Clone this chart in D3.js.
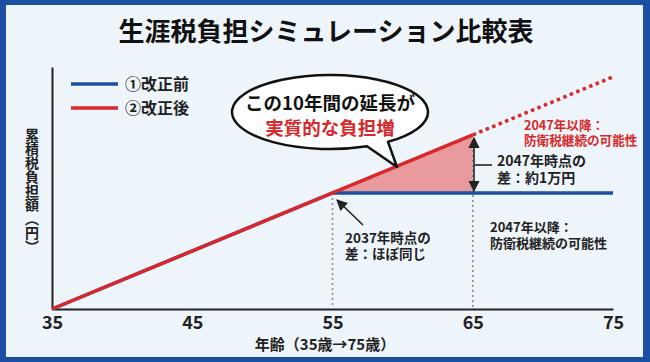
<!DOCTYPE html>
<html>
<head>
<meta charset="UTF-8" />
<title>生涯税負担シミュレーション比較表</title>
<script src="https://d3js.org/d3.v7.min.js"></script>
<style>
	body { margin: 0; }
	svg { display: block; font-family: "Noto Sans CJK JP", "Noto Sans", sans-serif; }
</style>
</head>
<body>
<div id="chart"></div>
<script type="text/javascript">

	// ages on the x axis
	var ages = [35, 45, 55, 65, 75];

	// ① before the change (yen, cumulative)
	var beforeAges = [35, 55, 75];
	var beforeTotals = [0, 20000, 20000];

	// ② after the change
	var afterAges = [35, 65];
	var afterTotals = [0, 30000];
	var afterLaterAges = [65, 75];
	var afterLaterTotals = [30000, 40000];

	var legendLabels = ["①改正前", "②改正後"];

	var W = 650, H = 362;
	var blue = "#1d4f9e", red = "#d9282b", ink = "#222";

	var svg = d3.select("div#chart")
		.append("svg")
			.attr("width", W)
			.attr("height", H);

	// frame
	svg.append("rect").attr("width", W).attr("height", H).attr("fill", "#1a4fa3");
	svg.append("rect")
		.attr("x", 6).attr("y", 5)
		.attr("width", 637).attr("height", 352)
		.attr("fill", "#eef5fa");

	svg.append("text")
		.attr("x", 326).attr("y", 41)
		.attr("text-anchor", "middle")
		.attr("font-size", 26).attr("font-weight", 700)
		.attr("fill", "#111")
		.text("生涯税負担シミュレーション比較表");

	var x = d3.scaleLinear().domain([35, 75]).range([52, 613]);
	var y = d3.scaleLinear().domain([0, 41700]).range([309, 67]);

	// axes
	var xAxis = svg.append("g")
		.attr("transform", "translate(0," + y(0) + ")")
		.call(d3.axisBottom(x).tickValues(ages).tickSize(0).tickPadding(7).tickSizeOuter(0));
	xAxis.select(".domain").attr("stroke", ink).attr("stroke-width", 2);
	xAxis.selectAll("text")
		.attr("font-family", "\"Noto Sans CJK JP\", sans-serif")
		.attr("font-size", 18).attr("font-weight", 700).attr("fill", ink);

	var yAxis = svg.append("g")
		.attr("transform", "translate(" + x(35) + ",0)")
		.call(d3.axisLeft(y).ticks(0).tickSize(0).tickSizeOuter(0));
	yAxis.select(".domain").attr("stroke", ink).attr("stroke-width", 2);

	svg.append("text")
		.attr("x", 325).attr("y", 350)
		.attr("text-anchor", "middle")
		.attr("font-size", 15).attr("font-weight", 700).attr("fill", ink)
		.text("年齢（35歳→75歳）");

	svg.append("text")
		.attr("x", 32).attr("y", 191)
		.attr("text-anchor", "middle")
		.style("writing-mode", "vertical-rl")
		.attr("font-size", 14).attr("font-weight", 700).attr("fill", ink)
		.text("累積税負担額（円）");

	// shaded gap between the two plans (55 -> 65)
	var gapAges = [55, 65];
	var area = d3.area()
		.x(function(d) { return x(d); })
		.y0(function(d) { return y(d3.max(beforeTotals)); })
		.y1(function(d) { return y(d3.interpolateNumber(afterTotals[0], afterTotals[1])((d - afterAges[0]) / (afterAges[1] - afterAges[0]))); });
	svg.append("path")
		.datum(gapAges)
		.attr("d", area)
		.attr("fill", "#e57373")
		.attr("opacity", 0.7);

	// dotted guides
	svg.append("line")
		.attr("x1", x(55)).attr("x2", x(55))
		.attr("y1", y(20000)).attr("y2", y(0))
		.attr("stroke", "#888").attr("stroke-width", 1.5).attr("stroke-dasharray", "2,3");
	svg.append("line")
		.attr("x1", x(65)).attr("x2", x(65))
		.attr("y1", y(30000)).attr("y2", y(0))
		.attr("stroke", "#888").attr("stroke-width", 1.5).attr("stroke-dasharray", "2,3");

	var line = d3.line()
		.x(function(d) { return x(d[0]); })
		.y(function(d) { return y(d[1]); });

	svg.append("path")
		.datum(d3.zip(beforeAges, beforeTotals))
		.attr("d", line)
		.attr("fill", "none").attr("stroke", blue).attr("stroke-width", 3.5);
	svg.append("path")
		.datum(d3.zip(afterAges, afterTotals))
		.attr("d", line)
		.attr("fill", "none").attr("stroke", red).attr("stroke-width", 3.5);
	svg.append("path")
		.datum(d3.zip(afterLaterAges, afterLaterTotals))
		.attr("d", line)
		.attr("fill", "none").attr("stroke", red).attr("stroke-width", 3.5)
		.attr("stroke-dasharray", "3.5,3.5");

	// legend
	var legend = svg.append("g");
	legendLabels.forEach(function(label, i) {
		var ly = 84 + i * 24;
		legend.append("line")
			.attr("x1", 71).attr("x2", 118).attr("y1", ly).attr("y2", ly)
			.attr("stroke", i === 0 ? blue : red).attr("stroke-width", 3.5);
		legend.append("text")
			.attr("x", 125).attr("y", ly + 6)
			.attr("font-size", 16).attr("font-weight", 700).attr("fill", ink)
			.text(label);
	});

	// arrow markers
	var defs = svg.append("defs");
	defs.append("marker")
		.attr("id", "head")
		.attr("viewBox", "0 0 10 10")
		.attr("refX", 9).attr("refY", 5)
		.attr("markerWidth", 7).attr("markerHeight", 7)
		.attr("orient", "auto-start-reverse")
		.append("path")
			.attr("d", "M0,0 L10,5 L0,10 Z")
			.attr("fill", ink);

	function addLines(lines, px, py, step, size, color) {
		lines.forEach(function(t, i) {
			svg.append("text")
				.attr("x", px).attr("y", py + i * step)
				.attr("font-size", size).attr("font-weight", 700).attr("fill", color)
				.text(t);
		});
	}

	// 2037 note
	svg.append("line")
		.attr("x1", 363).attr("y1", 225).attr("x2", 337).attr("y2", 200)
		.attr("stroke", ink).attr("stroke-width", 1.6)
		.attr("marker-end", "url(#head)");
	addLines(["2037年時点の", "差：ほぼ同じ"], 345, 243, 16, 13.5, ink);

	// 2047 difference
	svg.append("line")
		.attr("x1", 474).attr("x2", 474)
		.attr("y1", y(30000) + 3).attr("y2", y(20000) - 2)
		.attr("stroke", ink).attr("stroke-width", 1.6)
		.attr("marker-start", "url(#head)")
		.attr("marker-end", "url(#head)");
	svg.append("line")
		.attr("x1", 475).attr("x2", 492).attr("y1", 165).attr("y2", 165)
		.attr("stroke", ink).attr("stroke-width", 1.6);
	addLines(["2047年時点の", "差：約1万円"], 497, 166, 17, 14, ink);
	addLines(["2047年以降：", "防衛税継続の可能性"], 524, 130, 15, 12.6, red);
	addLines(["2047年以降：", "防衛税継続の可能性"], 490, 232, 16, 13, ink);

	// speech bubble
	var cx = 330, cy = 112, rx = 98, ry = 37;
	function onEllipse(px) {
		var t = (px - cx) / rx;
		return [px, cy + ry * Math.sqrt(1 - t * t)];
	}
	var pR = onEllipse(388), pL = onEllipse(367);
	var tip = [397, 167];
	svg.append("path")
		.attr("d", "M" + pR[0] + "," + pR[1] +
			" A" + rx + "," + ry + " 0 1 0 " + pL[0] + "," + pL[1] +
			" L" + tip[0] + "," + tip[1] + " Z")
		.attr("fill", "#fff")
		.attr("stroke", "#111")
		.attr("stroke-width", 2.5)
		.attr("stroke-linejoin", "round");
	svg.append("text")
		.attr("x", cx).attr("y", 110)
		.attr("text-anchor", "middle")
		.attr("font-size", 18.5).attr("font-weight", 700).attr("fill", "#111")
		.text("この10年間の延長が");
	svg.append("text")
		.attr("x", cx).attr("y", 135)
		.attr("text-anchor", "middle")
		.attr("font-size", 18.5).attr("font-weight", 700).attr("fill", red)
		.text("実質的な負担増");

</script>
</body>
</html>
